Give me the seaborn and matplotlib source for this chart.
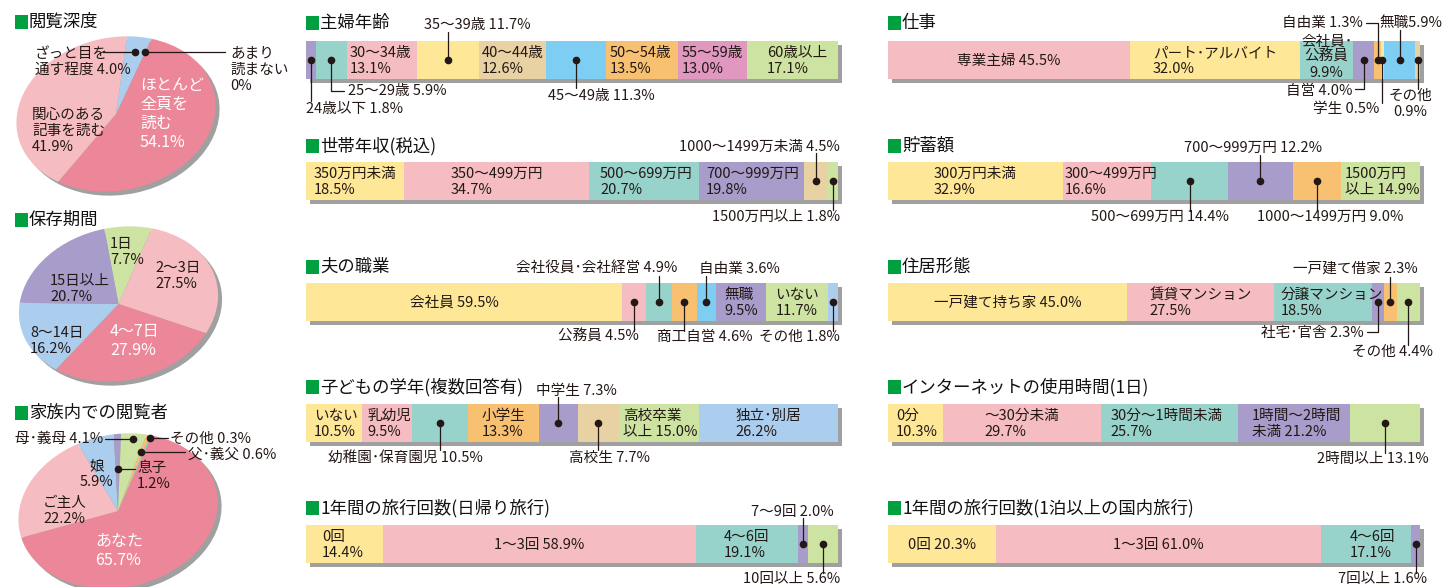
import numpy as np
import matplotlib
matplotlib.use("Agg")
import matplotlib.pyplot as plt
import seaborn as sns
from matplotlib.patches import Rectangle, Ellipse
from matplotlib.transforms import Affine2D, ScaledTranslation

# ---------------- data ----------------
depth_labels = ["ほとんど全頁を読む", "関心のある記事を読む", "ざっと目を通す程度", "あまり読まない"]
depth_values = [54.1, 41.9, 4.0, 0.0]
keep_labels = ["1日", "2～3日", "4～7日", "8～14日", "15日以上"]
keep_values = [7.7, 27.5, 27.9, 16.2, 20.7]
family_labels = ["あなた", "ご主人", "娘", "息子", "母･義母", "父･義父", "その他"]
family_values = [65.7, 22.2, 5.9, 1.2, 4.1, 0.6, 0.3]

age_values = [1.8, 5.9, 13.1, 11.7, 12.6, 11.3, 13.5, 13.0, 17.1]
income_values = [18.5, 34.7, 20.7, 19.8, 4.5, 1.8]
husband_values = [59.5, 4.5, 4.9, 4.6, 3.6, 9.5, 11.7, 1.8]
child_values = [10.5, 9.5, 10.5, 13.3, 7.3, 7.7, 15.0, 26.2]
daytrip_values = [14.4, 58.9, 19.1, 2.0, 5.6]
job_values = [45.5, 32.0, 9.9, 4.0, 1.3, 0.5, 5.9, 0.9]
saving_values = [32.9, 16.6, 14.4, 12.2, 9.0, 14.9]
house_values = [45.0, 27.5, 18.5, 2.3, 2.3, 4.4]
net_values = [10.3, 29.7, 25.7, 21.2, 13.1]
stay_values = [20.3, 61.0, 17.1, 1.6]

# ---------------- style ----------------
YEL, PNK, TEA, PUR = "#fee897", "#f5bdc1", "#97d3ca", "#a89ccb"
TAN, SKY, ORA, MAG = "#e8d1a2", "#7ecef4", "#f8c171", "#e097c0"
GRN, LBL, DPK, PGR = "#cde3a1", "#abcdee", "#ec8799", "#e8efb0"
SHADOW = "#a0a0a0"
TXT = "#231815"
GREEN = "#00a040"
FS = 10.5

sns.set_theme(style="white")
plt.rcParams["font.family"] = ["Noto Sans CJK JP", "DejaVu Sans"]

W, H, DPI = 1445, 587, 100
fig = plt.figure(figsize=(W / DPI, H / DPI), dpi=DPI)
fig.patch.set_facecolor("white")

ov = fig.add_axes([0, 0, 1, 1], zorder=5)
ov.set_xlim(0, W); ov.set_ylim(H, 0); ov.axis("off"); ov.patch.set_alpha(0)

shift = ScaledTranslation(4 / DPI, -4 / DPI, fig.dpi_scale_trans)


def px_axes(x, y, w, h):
    return fig.add_axes([x / W, 1 - (y + h) / H, w / W, h / H])


def to_px(tr, x, y):
    return ov.transData.inverted().transform(tr.transform((x, y)))


def title(x, y, text):
    ov.add_patch(Rectangle((x, y - 7), 13, 14, facecolor=GREEN, lw=0))
    ov.text(x + 14, y, text, ha="left", va="center", fontsize=12.5, color="#111111")


def stacked_bar(x0, top, values, colors):
    ax = px_axes(x0, top, 532, 38)
    cum = np.cumsum(values)
    for i in reversed(range(len(values))):
        sns.barplot(x=[cum[i]], y=["v"], orient="h", color=colors[i], saturation=1,
                    width=1, errorbar=None, linewidth=0, ax=ax)
    ax.set_xlim(0, cum[-1]); ax.set_ylim(0.5, -0.5); ax.axis("off")
    ax.add_patch(Rectangle((0, -0.5), cum[-1], 1, transform=ax.transData + shift,
                           facecolor=SHADOW, lw=0, zorder=0, clip_on=False))
    return ax, cum


def inside(ax, cum, values, idx, text, mode="l", dx=4, dy=1, ma="left"):
    left = cum[idx] - values[idx]
    ref = left if mode == "l" else left + values[idx] / 2
    x, y = to_px(ax.transData, ref, 0)
    ov.text(x + dx, y + dy, text, ha="left" if mode == "l" else "center", va="center",
            multialignment=ma, fontsize=FS, color=TXT, linespacing=1.15)


def callout(ax, cum, values, idx, text, yend, tx, ty, ha="left", xelbow=None, ma="left"):
    x, y = to_px(ax.transData, cum[idx] - values[idx] / 2, 0)
    xs, ys = [x, x], [y, yend]
    if xelbow is not None:
        xs.append(xelbow); ys.append(yend)
    ov.plot(xs, ys, color=TXT, lw=0.9)
    ov.plot([x], [y], "o", color=TXT, ms=4.5)
    ov.text(tx, ty, text, ha=ha, va="center", multialignment=ma, fontsize=FS,
            color=TXT, linespacing=1.15)


# ---------------- pies ----------------
R, SQ, TILT = 100.5, 0.761, 12


def ellipse_pie(cx, cy, values, colors, start):
    hw, hh = 125, 100
    ax = px_axes(cx - hw, cy - hh, 2 * hw, 2 * hh)
    wedges, _ = ax.pie(values, colors=colors, startangle=start, counterclock=False,
                       wedgeprops=dict(linewidth=0))
    ax.set_aspect("auto")
    ax.set_xlim(-hw / R, hw / R); ax.set_ylim(-hh / R, hh / R); ax.axis("off")
    tr = Affine2D().scale(1, SQ).rotate_deg(TILT) + ax.transData
    for w in wedges:
        w.set_transform(tr)
    ax.add_patch(Ellipse((0, 0), 2, 2 * SQ, angle=TILT, transform=ax.transData + shift,
                         facecolor=SHADOW, lw=0, zorder=0))
    return wedges, tr


def pie_dot(wedges, tr, idx, r, xend, tx, ty, text, ha="left"):
    th = np.deg2rad((wedges[idx].theta1 + wedges[idx].theta2) / 2)
    x, y = to_px(tr, r * np.cos(th), r * np.sin(th))
    ov.plot([x, xend], [y, y], color=TXT, lw=0.9)
    ov.plot([x], [y], "o", color=TXT, ms=4.5)
    ov.text(tx, ty, text, ha=ha, va="center", fontsize=FS, color=TXT, linespacing=1.15)


def pie_text(x, y, text, white=False, ha="left", ma="left"):
    ov.text(x, y, text, ha=ha, va="center", multialignment=ma,
            fontsize=11.5 if white else FS, color="white" if white else TXT, linespacing=1.15)


title(15, 22, "閲覧深度")
wd, trd = ellipse_pie(116, 114, depth_values, [DPK, PNK, LBL, LBL], 60)
pie_text(140, 114, "ほとんど\n全頁を\n読む\n54.1%", white=True)
pie_text(32, 131, "関心のある\n記事を読む\n41.9%")
pie_dot(wd, trd, 2, 0.8, 103, 35, 62, "ざっと目を\n通す程度 4.0%")
pie_dot(wd, trd, 3, 0.82, 225, 230, 70, "あまり\n読まない\n0%")

title(15, 220, "保存期間")
ellipse_pie(118.5, 304, keep_values, [GRN, PNK, DPK, LBL, PUR], 89)
pie_text(110, 252, "1日\n7.7%")
pie_text(155, 276, "2～3日\n27.5%")
pie_text(110, 341, "4～7日\n27.9%", white=True)
pie_text(30, 341, "8～14日\n16.2%")
pie_text(50, 289, "15日以上\n20.7%")

title(15, 413, "家族内での閲覧者")
wf, trf = ellipse_pie(118, 511, family_values, [DPK, PNK, LBL, PUR, GRN, ORA, TEA], 61)
pie_text(95, 551, "あなた\n65.7%", white=True)
pie_text(43, 511, "ご主人\n22.2%")
pie_text(97, 474, "娘\n5.9%", ha="center", ma="center")
pie_dot(wf, trf, 3, 0.55, 135, 137, 476, "息子\n1.2%")
pie_dot(wf, trf, 4, 0.93, 105, 15, 439, "母･義母 4.1%")
pie_dot(wf, trf, 5, 0.77, 185, 188, 455, "父･義父 0.6%")
pie_dot(wf, trf, 6, 0.97, 168, 170, 439, "その他 0.3%")

# ---------------- bars, left column ----------------
LX, RX = 306, 888
TOPS = [41, 162, 283, 404, 525]

title(LX, 23, "主婦年齢")
ax, cum = stacked_bar(LX, TOPS[0], age_values, [PUR, TEA, PNK, YEL, TAN, SKY, ORA, MAG, GRN])
v = age_values
inside(ax, cum, v, 2, "30～34歳\n13.1%", dx=3)
inside(ax, cum, v, 4, "40～44歳\n12.6%", dx=3)
inside(ax, cum, v, 6, "50～54歳\n13.5%", dx=4)
inside(ax, cum, v, 7, "55～59歳\n13.0%", dx=4)
inside(ax, cum, v, 8, "60歳以上\n17.1%", dx=20)
callout(ax, cum, v, 0, "24歳以下 1.8%", 101, 306, 109)
callout(ax, cum, v, 1, "25～29歳 5.9%", 91, 348, 91, xelbow=344)
callout(ax, cum, v, 3, "35～39歳 11.7%", 32, 424, 25)
callout(ax, cum, v, 5, "45～49歳 11.3%", 88, 548, 96)

title(LX, 146, "世帯年収(税込)")
ax, cum = stacked_bar(LX, TOPS[1], income_values, [YEL, PNK, TEA, PUR, TAN, GRN])
v = income_values
inside(ax, cum, v, 0, "350万円未満\n18.5%", dx=8)
inside(ax, cum, v, 1, "350～499万円\n34.7%", mode="c", dx=0)
inside(ax, cum, v, 2, "500～699万円\n20.7%", dx=11)
inside(ax, cum, v, 3, "700～999万円\n19.8%", dx=7)
callout(ax, cum, v, 4, "1000～1499万未満 4.5%", 153, 840, 147, ha="right")
callout(ax, cum, v, 5, "1500万円以上 1.8%", 210, 840, 217, ha="right")

title(LX, 267, "夫の職業")
ax, cum = stacked_bar(LX, TOPS[2], husband_values, [YEL, PNK, TEA, ORA, SKY, PUR, GRN, LBL])
v = husband_values
inside(ax, cum, v, 0, "会社員 59.5%", mode="c", dx=-10)
inside(ax, cum, v, 5, "無職\n9.5%", mode="c", dx=0)
inside(ax, cum, v, 6, "いない\n11.7%", mode="c", dx=0)
callout(ax, cum, v, 1, "公務員 4.5%", 331, 639, 337, ha="right")
callout(ax, cum, v, 2, "会社役員･会社経営 4.9%", 276, 677, 269, ha="right")
callout(ax, cum, v, 3, "商工自営 4.6%", 331, 657, 337)
callout(ax, cum, v, 4, "自由業 3.6%", 276, 699, 269)
callout(ax, cum, v, 7, "その他 1.8%", 331, 840, 337, ha="right")

title(LX, 387, "子どもの学年(複数回答有)")
ax, cum = stacked_bar(LX, TOPS[3], child_values, [YEL, PNK, TEA, ORA, PUR, TAN, GRN, LBL])
v = child_values
inside(ax, cum, v, 0, "いない\n10.5%", dx=8)
inside(ax, cum, v, 1, "乳幼児\n9.5%", dx=6)
inside(ax, cum, v, 3, "小学生\n13.3%", mode="c", dx=0)
inside(ax, cum, v, 6, "高校卒業\n以上 15.0%", dx=4)
inside(ax, cum, v, 7, "独立･別居\n26.2%", mode="c", dx=0)
callout(ax, cum, v, 2, "幼稚園･保育園児 10.5%", 450, 328, 458)
callout(ax, cum, v, 4, "中学生 7.3%", 397, 536, 391)
callout(ax, cum, v, 5, "高校生 7.7%", 450, 569, 458)

title(LX, 508, "1年間の旅行回数(日帰り旅行)")
ax, cum = stacked_bar(LX, TOPS[4], daytrip_values, [YEL, PNK, TEA, PUR, GRN])
v = daytrip_values
inside(ax, cum, v, 0, "0回\n14.4%", dx=16)
inside(ax, cum, v, 1, "1～3回 58.9%", mode="c", dx=0)
inside(ax, cum, v, 2, "4～6回\n19.1%", mode="c", dx=0)
callout(ax, cum, v, 3, "7～9回 2.0%", 518, 834, 512, ha="right")
callout(ax, cum, v, 4, "10回以上 5.6%", 573, 840, 579, ha="right")

# ---------------- bars, right column ----------------
title(RX, 23, "仕事")
ax, cum = stacked_bar(RX, TOPS[0], job_values, [PNK, YEL, TEA, PUR, ORA, PGR, SKY, TAN])
v = job_values
inside(ax, cum, v, 0, "専業主婦 45.5%", mode="c", dx=0)
inside(ax, cum, v, 1, "パート･アルバイト\n32.0%", mode="c", dx=0)
inside(ax, cum, v, 2, "会社員･\n公務員\n9.9%", mode="c", dx=0, dy=-3, ma="center")
callout(ax, cum, v, 3, "自営 4.0%", 89, 1352, 91, ha="right", xelbow=1355)
callout(ax, cum, v, 4, "自由業 1.3%", 23, 1363, 23, ha="right", xelbow=1366)
callout(ax, cum, v, 5, "学生 0.5%", 103, 1379, 109, ha="right")
callout(ax, cum, v, 6, "無職5.9%", 30, 1379, 23)
callout(ax, cum, v, 7, "その他\n0.9%", 89, 1410, 104, ha="center", ma="center")

title(RX, 146, "貯蓄額")
ax, cum = stacked_bar(RX, TOPS[1], saving_values, [YEL, PNK, TEA, PUR, ORA, GRN])
v = saving_values
inside(ax, cum, v, 0, "300万円未満\n32.9%", mode="c", dx=0)
inside(ax, cum, v, 1, "300～499万円\n16.6%", dx=2)
inside(ax, cum, v, 5, "1500万円\n以上 14.9%", dx=4)
callout(ax, cum, v, 2, "500～699万円 14.4%", 211, 1229, 217, ha="right")
callout(ax, cum, v, 3, "700～999万円 12.2%", 155, 1184, 148)
callout(ax, cum, v, 4, "1000～1499万円 9.0%", 211, 1257, 217)

title(RX, 267, "住居形態")
ax, cum = stacked_bar(RX, TOPS[2], house_values, [YEL, PNK, TEA, PUR, ORA, GRN])
v = house_values
inside(ax, cum, v, 0, "一戸建て持ち家 45.0%", mode="c", dx=0)
inside(ax, cum, v, 1, "賃貸マンション\n27.5%", mode="c", dx=0)
inside(ax, cum, v, 2, "分譲マンション\n18.5%", dx=7)
callout(ax, cum, v, 3, "社宅･官舎 2.3%", 332, 1364, 333, ha="right", xelbow=1367)
callout(ax, cum, v, 4, "一戸建て借家 2.3%", 277, 1418, 269, ha="right")
callout(ax, cum, v, 5, "その他 4.4%", 345, 1352, 352)

title(RX, 387, "インターネットの使用時間(1日)")
ax, cum = stacked_bar(RX, TOPS[3], net_values, [YEL, PNK, TEA, PUR, GRN])
v = net_values
inside(ax, cum, v, 0, "0分\n10.3%", dx=8)
inside(ax, cum, v, 1, "～30分未満\n29.7%", mode="c", dx=0)
inside(ax, cum, v, 2, "30分～1時間未満\n25.7%", dx=10)
inside(ax, cum, v, 3, "1時間～2時間\n未満 21.2%", dx=14)
callout(ax, cum, v, 4, "2時間以上 13.1%", 453, 1429, 459, ha="right")

title(RX, 508, "1年間の旅行回数(1泊以上の国内旅行)")
ax, cum = stacked_bar(RX, TOPS[4], stay_values, [YEL, PNK, TEA, PUR])
v = stay_values
inside(ax, cum, v, 0, "0回 20.3%", dx=20)
inside(ax, cum, v, 1, "1～3回 61.0%", mode="c", dx=0)
inside(ax, cum, v, 2, "4～6回\n17.1%", mode="c", dx=6)
callout(ax, cum, v, 3, "7回以上 1.6%", 573, 1427, 579, ha="right")

fig.savefig("out.png", dpi=DPI, facecolor="white")
